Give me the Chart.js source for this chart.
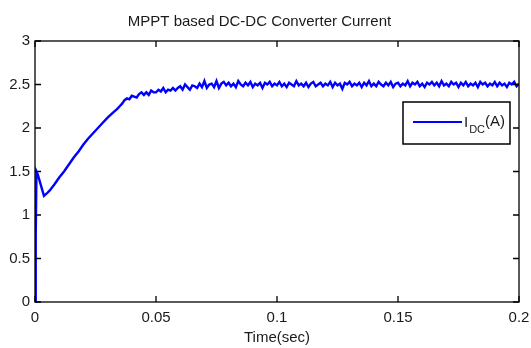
<!DOCTYPE html>
<html>
<head>
<meta charset="utf-8">
<script src="https://cdn.jsdelivr.net/npm/chart.js@4"></script>
<style>
  html, body { margin: 0; padding: 0; background: #fff; }
  #wrap { width: 531px; height: 348px; }
</style>
</head>
<body>
<div id="wrap"><canvas id="currentChart"></canvas></div>
<script>
// chart values
const timeSec = [0, 0.0003, 0.0006, 0.0012, 0.0037, 0.005, 0.006, 0.008, 0.010, 0.012,
  0.014, 0.016, 0.018, 0.020, 0.022, 0.024, 0.026, 0.028, 0.030, 0.032,
  0.034, 0.035, 0.036, 0.037,
  0.038, 0.039, 0.040, 0.041, 0.042, 0.043, 0.044, 0.045, 0.046, 0.047, 0.048, 0.049,
  0.050, 0.051, 0.052, 0.053, 0.054, 0.055, 0.056, 0.057, 0.058, 0.059,
  0.060, 0.061, 0.062, 0.063, 0.064, 0.065, 0.066, 0.067, 0.068, 0.069,
  0.070, 0.071, 0.072, 0.073, 0.074, 0.075, 0.076, 0.077, 0.078, 0.079,
  0.080, 0.081, 0.082, 0.083, 0.084, 0.085, 0.086, 0.087, 0.088, 0.089,
  0.090, 0.091, 0.092, 0.093, 0.094, 0.095, 0.096, 0.097, 0.098, 0.099,
  0.100, 0.101, 0.102, 0.103, 0.104, 0.105, 0.106, 0.107, 0.108, 0.109,
  0.110, 0.111, 0.112, 0.113, 0.114, 0.115, 0.116, 0.117, 0.118, 0.119,
  0.120, 0.121, 0.122, 0.123, 0.124, 0.125, 0.126, 0.127, 0.128, 0.129,
  0.130, 0.131, 0.132, 0.133, 0.134, 0.135, 0.136, 0.137, 0.138, 0.139,
  0.140, 0.141, 0.142, 0.143, 0.144, 0.145, 0.146, 0.147, 0.148, 0.149,
  0.150, 0.151, 0.152, 0.153, 0.154, 0.155, 0.156, 0.157, 0.158, 0.159,
  0.160, 0.161, 0.162, 0.163, 0.164, 0.165, 0.166, 0.167, 0.168, 0.169,
  0.170, 0.171, 0.172, 0.173, 0.174, 0.175, 0.176, 0.177, 0.178, 0.179,
  0.180, 0.181, 0.182, 0.183, 0.184, 0.185, 0.186, 0.187, 0.188, 0.189,
  0.190, 0.191, 0.192, 0.193, 0.194, 0.195, 0.196, 0.197, 0.198, 0.199,
  0.200];
const currentIdc = [0, 0.75, 1.50, 1.46, 1.22, 1.25, 1.28, 1.35, 1.43, 1.50,
  1.58, 1.66, 1.73, 1.81, 1.88, 1.94, 2.00, 2.06, 2.12, 2.17,
  2.22, 2.25, 2.28, 2.32,
  2.34, 2.33, 2.37, 2.36, 2.35, 2.39, 2.41, 2.38, 2.41, 2.38, 2.43, 2.41,
  2.41, 2.44, 2.42, 2.46, 2.41, 2.44, 2.43, 2.46, 2.43, 2.46,
  2.48, 2.44, 2.50, 2.47, 2.44, 2.49, 2.48, 2.46, 2.51, 2.47,
  2.54, 2.46, 2.50, 2.51, 2.47, 2.54, 2.46, 2.51, 2.53, 2.49,
  2.52, 2.48, 2.51, 2.47, 2.54, 2.50, 2.48, 2.52, 2.49, 2.53,
  2.47, 2.51, 2.49, 2.52, 2.46, 2.52, 2.50, 2.53, 2.48, 2.51,
  2.49, 2.53, 2.48, 2.51, 2.47, 2.52, 2.50, 2.48, 2.54, 2.49,
  2.51, 2.48, 2.52, 2.47, 2.51, 2.53, 2.48, 2.50, 2.52, 2.48,
  2.51, 2.49, 2.53, 2.47, 2.52, 2.49, 2.51, 2.45, 2.52, 2.50,
  2.53, 2.48, 2.51, 2.49, 2.52, 2.47, 2.52, 2.49, 2.54, 2.48,
  2.51, 2.48, 2.53, 2.50, 2.48, 2.52, 2.49, 2.53, 2.47, 2.51,
  2.52, 2.48, 2.51, 2.49, 2.54, 2.48, 2.52, 2.50, 2.53, 2.48,
  2.51, 2.47, 2.52, 2.50, 2.53, 2.49, 2.52, 2.48, 2.54, 2.49,
  2.51, 2.48, 2.53, 2.50, 2.52, 2.47, 2.52, 2.49, 2.53, 2.48,
  2.51, 2.49, 2.52, 2.47, 2.53, 2.50, 2.52, 2.48, 2.51, 2.49,
  2.53, 2.48, 2.52, 2.49, 2.51, 2.47, 2.52, 2.50, 2.53, 2.48,
  2.51];
const xTicks = [0, 0.05, 0.1, 0.15, 0.2];
const xTickLabels = ['0', '0.05', '0.1', '0.15', '0.2'];
const yTicks = [0, 0.5, 1, 1.5, 2, 2.5, 3];
const yTickLabels = ['0', '0.5', '1', '1.5', '2', '2.5', '3'];

const fontFamily = 'Arial, "Liberation Sans", sans-serif';
const textColor = '#1a1a1a';

// matlab style box with inward ticks on all four sides
const boxPlugin = {
  id: 'matlabBox',
  afterDatasetsDraw(chart) {
    const {ctx, chartArea: a, scales} = chart;
    const tickLen = 6;
    ctx.save();
    ctx.strokeStyle = '#000';
    ctx.lineWidth = 1.3;
    ctx.strokeRect(a.left, a.top, a.right - a.left, a.bottom - a.top);
    ctx.beginPath();
    xTicks.forEach(v => {
      const px = scales.x.getPixelForValue(v);
      ctx.moveTo(px, a.bottom); ctx.lineTo(px, a.bottom - tickLen);
      ctx.moveTo(px, a.top); ctx.lineTo(px, a.top + tickLen);
    });
    yTicks.forEach(v => {
      const py = scales.y.getPixelForValue(v);
      ctx.moveTo(a.left, py); ctx.lineTo(a.left + tickLen, py);
      ctx.moveTo(a.right, py); ctx.lineTo(a.right - tickLen, py);
    });
    ctx.stroke();
    ctx.restore();
  }
};

// legend with subscript text, drawn like the matlab legend box
const legendPlugin = {
  id: 'subLegend',
  afterDraw(chart) {
    const {ctx, chartArea: a} = chart;
    const bx = a.right - 116, by = a.top + 61, bw = 107, bh = 42;
    ctx.save();
    ctx.fillStyle = '#fff';
    ctx.fillRect(bx, by, bw, bh);
    ctx.strokeStyle = '#000';
    ctx.lineWidth = 1.5;
    ctx.strokeRect(bx, by, bw, bh);
    ctx.strokeStyle = chart.data.datasets[0].borderColor;
    ctx.lineWidth = 2;
    ctx.beginPath();
    ctx.moveTo(bx + 10, by + 20);
    ctx.lineTo(bx + 59, by + 20);
    ctx.stroke();
    ctx.fillStyle = textColor;
    ctx.textBaseline = 'alphabetic';
    ctx.font = '15px ' + fontFamily;
    let tx = bx + 61;
    ctx.fillText('I', tx, by + 25);
    tx += ctx.measureText('I').width + 1;
    ctx.font = '11px ' + fontFamily;
    ctx.fillText('DC', tx, by + 31);
    tx += ctx.measureText('DC').width;
    ctx.font = '15px ' + fontFamily;
    ctx.fillText('(A)', tx, by + 24);
    ctx.restore();
  }
};

new Chart(document.getElementById('currentChart'), {
  type: 'line',
  data: {
    datasets: [{
      label: 'I_DC(A)',
      data: timeSec.map((t, i) => ({x: t, y: currentIdc[i]})),
      borderColor: '#0000ff',
      borderWidth: 2.4,
      pointRadius: 0,
      tension: 0,
      fill: false
    }]
  },
  options: {
    responsive: true,
    maintainAspectRatio: false,
    animation: false,
    layout: { padding: { left: 0, right: 12, top: 0, bottom: 0 } },
    plugins: {
      legend: { display: false },
      tooltip: { enabled: false },
      title: {
        display: true,
        text: 'MPPT based DC-DC Converter Current',
        color: textColor,
        font: { family: fontFamily, size: 15, weight: 'normal' },
        padding: { top: 13, bottom: 10 }
      }
    },
    scales: {
      x: {
        type: 'linear',
        min: 0,
        max: 0.2,
        grid: { display: false, drawTicks: false },
        border: { display: false },
        afterBuildTicks: s => { s.ticks = xTicks.map(v => ({value: v})); },
        afterFit: s => { s.height = 46; s.paddingLeft = 0; s.paddingRight = 0; },
        ticks: {
          color: textColor,
          padding: 7,
          maxRotation: 0,
          font: { family: fontFamily, size: 15 },
          callback: (v, i) => xTickLabels[i]
        },
        title: {
          display: true,
          text: 'Time(sec)',
          color: textColor,
          font: { family: fontFamily, size: 15 },
          padding: { top: 0, bottom: 1 }
        }
      },
      y: {
        min: 0,
        max: 3,
        grid: { display: false, drawTicks: false },
        border: { display: false },
        afterBuildTicks: s => { s.ticks = yTicks.map(v => ({value: v})); },
        afterFit: s => { s.width = 35; s.paddingTop = 0; s.paddingBottom = 0; },
        ticks: {
          color: textColor,
          padding: 5,
          font: { family: fontFamily, size: 15 },
          callback: (v, i) => yTickLabels[i]
        }
      }
    }
  },
  plugins: [boxPlugin, legendPlugin]
});
</script>
</body>
</html>
